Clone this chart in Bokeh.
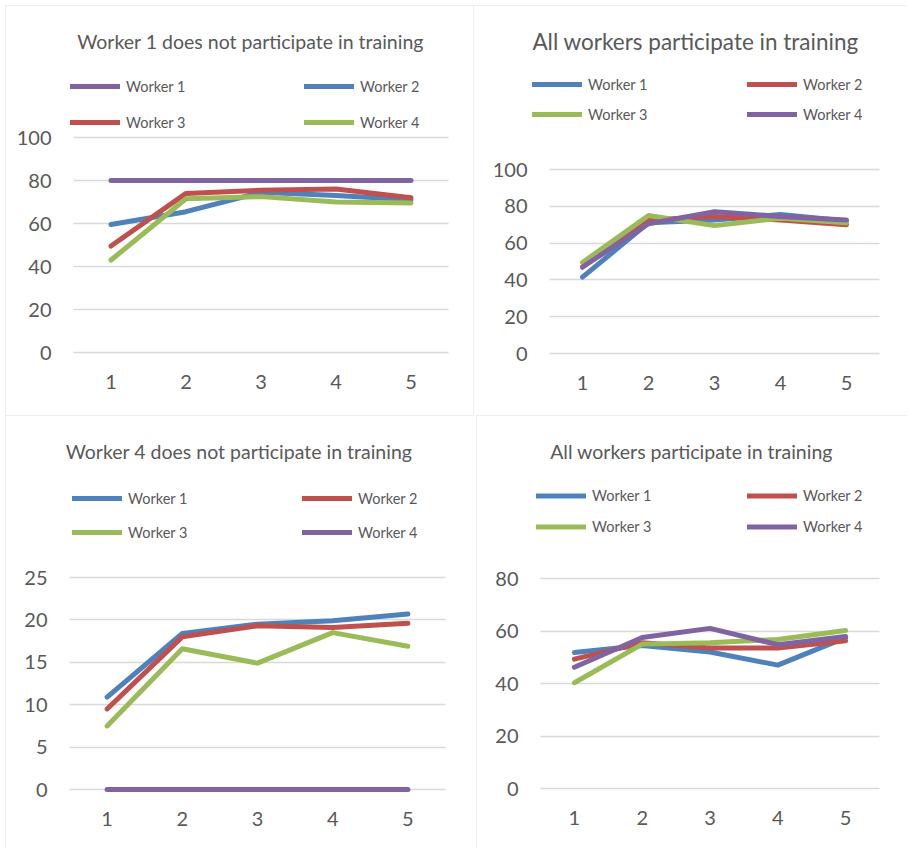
from bokeh.plotting import figure
from bokeh.layouts import column, row
from bokeh.models import Legend, LegendItem, Label, Range1d, Grid
from bokeh.embed import file_html
from bokeh.resources import INLINE

# Training steps on the x axis
steps = [1, 2, 3, 4, 5]
worker_names = ["Worker 1", "Worker 2", "Worker 3", "Worker 4"]

# Scenario A: worker 1 stays out of training
a_title = "Worker 1 does not participate in training"
a_worker1 = [80, 80, 80, 80, 80]
a_worker2 = [59.5, 65.5, 74.5, 73, 71]
a_worker3 = [49.5, 74, 75.5, 76, 72]
a_worker4 = [43, 71.5, 72.5, 70, 69.5]

# Scenario B: everyone trains (first run)
b_title = "All workers participate in training"
b_worker1 = [41.5, 71, 72.5, 75.5, 72]
b_worker2 = [47, 72.5, 74.5, 72.5, 70]
b_worker3 = [49.5, 75, 69.5, 73.5, 71]
b_worker4 = [47, 70.5, 77, 74.5, 72.5]

# Scenario C: worker 4 stays out of training
c_title = "Worker 4 does not participate in training"
c_worker1 = [10.9, 18.4, 19.5, 19.9, 20.7]
c_worker2 = [9.5, 18.0, 19.3, 19.1, 19.6]
c_worker3 = [7.5, 16.6, 14.9, 18.5, 16.9]
c_worker4 = [0, 0, 0, 0, 0]

# Scenario D: everyone trains (second run)
d_title = "All workers participate in training"
d_worker1 = [51.8, 54.5, 52, 47, 57.5]
d_worker2 = [49.3, 55.5, 53.5, 53.5, 56.3]
d_worker3 = [40.3, 55, 55.5, 56.8, 60.2]
d_worker4 = [46.2, 57.5, 61, 54.8, 57.9]

BLUE = "#4F81BD"
RED = "#C0504D"
GREEN = "#9BBB59"
PURPLE = "#8064A2"
TEXT = "#595959"
GRID = "#d9d9d9"
FONT = "Lato"


def make_panel(title, series, colors, y_max, y_step, box, frame,
               title_center, title_mid, title_size,
               legend_x0, legend_rows, legend_col_gap, margin):
    bx, by, bw, bh = box
    fl, fr, ft, fb = frame
    # The drawing area fills the whole panel; the ranges are widened so
    # that steps 0.5..5.5 and 0..y_max land on the plotting rectangle.
    x_per_px = 5.0 / (fr - fl)
    y_per_px = y_max / (fb - ft)
    x_range = Range1d(0.5 - (fl - bx) * x_per_px, 5.5 + (bx + bw - fr) * x_per_px)
    y_range = Range1d(-(by + bh - fb) * y_per_px, y_max + (ft - by) * y_per_px)

    p = figure(
        width=bw, height=bh, x_range=x_range, y_range=y_range,
        output_backend="svg", toolbar_location=None,
        min_border=0, margin=margin,
        styles={"outline": "2px solid #dedede", "outline-offset": "-2px"},
    )
    p.outline_line_color = None
    p.background_fill_color = "white"
    p.border_fill_color = "white"

    yticks = list(range(0, y_max + 1, y_step))
    p.xaxis.ticker = steps
    p.yaxis.ticker = yticks
    p.xaxis.fixed_location = 0
    p.yaxis.fixed_location = 0.5
    for ax in (p.xaxis, p.yaxis):
        ax.axis_line_color = None
        ax.major_tick_line_color = None
        ax.minor_tick_line_color = None
        ax.major_label_text_font = FONT
        ax.major_label_text_font_size = "20px"
        ax.major_label_text_color = TEXT
    p.yaxis.major_label_standoff = 16
    p.xaxis.major_label_standoff = 16

    p.xgrid.grid_line_color = None
    if "cross_bounds" in Grid.properties():
        p.ygrid.grid_line_color = GRID
        p.ygrid.grid_line_width = 1.5
        p.ygrid.cross_bounds = (0.5, 5.5)
    else:
        p.ygrid.grid_line_color = None
        p.segment(x0=0.5, x1=5.5, y0=yticks, y1=yticks,
                  line_color=GRID, line_width=1.5)

    items = []
    for name, vals, col in zip(worker_names, series, colors):
        r = p.line(steps, vals, line_color=col, line_width=5,
                   line_cap="round", line_join="round")
        items.append(LegendItem(label=name, renderers=[r]))

    row_gap = legend_rows[1] - legend_rows[0]
    glyph_w = 50
    standoff = 6
    legend = Legend(
        items=items,
        orientation="horizontal", ncols=2,
        location=(legend_x0 + 2 - bx, by + bh - (legend_rows[1] + row_gap / 2)),
        glyph_width=glyph_w, glyph_height=row_gap,
        label_height=row_gap,
        label_width=legend_col_gap - glyph_w - standoff,
        label_standoff=standoff,
        spacing=0, padding=0, margin=0,
        border_line_color=None, background_fill_alpha=0,
        label_text_font=FONT, label_text_font_size="14.5px",
        label_text_color=TEXT,
    )
    p.add_layout(legend)

    p.add_layout(Label(
        x=title_center - bx, y=by + bh - title_mid,
        x_units="screen", y_units="screen",
        text=title, text_align="center", text_baseline="middle",
        text_font=FONT, text_font_size=f"{title_size}px", text_color=TEXT,
    ))
    return p


p_a = make_panel(
    a_title, [a_worker1, a_worker2, a_worker3, a_worker4],
    [PURPLE, BLUE, RED, GREEN], 100, 20,
    box=(5, 5, 468, 410), frame=(73, 448, 137, 352),
    title_center=250, title_mid=41, title_size=19.5,
    legend_x0=68, legend_rows=(86, 122), legend_col_gap=234,
    margin=(5, 0, 0, 5),
)
p_b = make_panel(
    b_title, [b_worker1, b_worker2, b_worker3, b_worker4],
    [BLUE, RED, GREEN, PURPLE], 100, 20,
    box=(473, 5, 434, 410), frame=(549, 879, 169, 353),
    title_center=695, title_mid=41, title_size=22.5,
    legend_x0=530, legend_rows=(84, 114), legend_col_gap=215,
    margin=(5, 0, 0, 0),
)
p_c = make_panel(
    c_title, [c_worker1, c_worker2, c_worker3, c_worker4],
    [BLUE, RED, GREEN, PURPLE], 25, 5,
    box=(5, 415, 469, 434), frame=(69, 445, 577, 789),
    title_center=238.5, title_mid=451, title_size=19.5,
    legend_x0=70, legend_rows=(498, 532), legend_col_gap=230,
    margin=(0, 0, 0, 5),
)
p_d = make_panel(
    d_title, [d_worker1, d_worker2, d_worker3, d_worker4],
    [BLUE, RED, GREEN, PURPLE], 80, 20,
    box=(476, 415, 431, 434), frame=(540, 879, 578, 788),
    title_center=691, title_mid=451, title_size=19.5,
    legend_x0=534, legend_rows=(495, 526), legend_col_gap=211,
    margin=(0, 0, 0, 2),
)

layout = column(row(p_a, p_b), row(p_c, p_d))
open("out.html", "w").write(file_html(layout, INLINE))
